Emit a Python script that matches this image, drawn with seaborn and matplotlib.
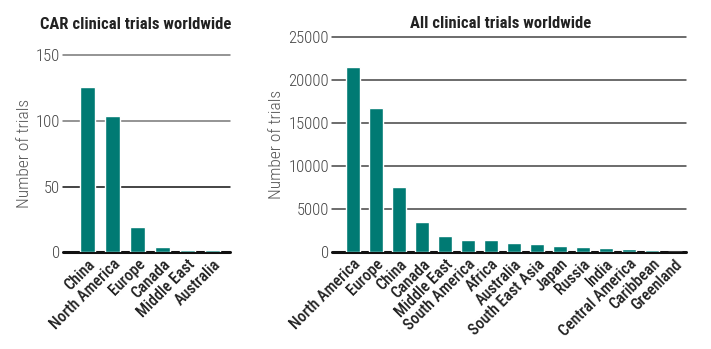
import matplotlib
matplotlib.use("Agg")
import matplotlib.pyplot as plt
import seaborn as sns
import pandas as pd

car_regions = ["China", "North America", "Europe", "Canada", "Middle East", "Australia"]
car_trials = [126, 104, 19, 4, 2, 2]

all_regions = ["North America", "Europe", "China", "Canada", "Middle East", "South America",
               "Africa", "Australia", "South East Asia", "Japan", "Russia", "India",
               "Central America", "Caribbean", "Greenland"]
all_trials = [21500, 16800, 7550, 3500, 1870, 1430, 1430, 1030, 930, 730, 620, 470, 360, 230, 15]

car_yticks = [0, 50, 100, 150]
all_yticks = [0, 5000, 10000, 15000, 20000, 25000]

sns.set_theme(style="white")
plt.rcParams["font.family"] = ["Roboto Condensed", "DejaVu Sans"]

teal = "#007A73"
fig = plt.figure(figsize=(7.11, 3.49), dpi=100)
ax1 = fig.add_axes([0.0886, 0.277, 0.235, 0.565])
ax2 = fig.add_axes([0.4665, 0.277, 0.498, 0.616])

df1 = pd.DataFrame({"region": car_regions, "trials": car_trials})
df2 = pd.DataFrame({"region": all_regions, "trials": all_trials})

sns.barplot(data=df1, x="region", y="trials", color=teal, width=0.6, ax=ax1, saturation=1, zorder=3)
sns.barplot(data=df2, x="region", y="trials", color=teal, width=0.62, ax=ax2, saturation=1, zorder=3)

def style(ax, yticks, xlim, title, gridcolors, tpad):
    ax.set_ylim(0, yticks[-1])
    ax.set_xlim(*xlim)
    ax.set_yticks(yticks)
    ax.set_yticklabels([str(t) for t in yticks], fontsize=12, color="#444444", fontweight="light")
    for t, c in zip(yticks[1:], gridcolors):
        ax.axhline(t, color=c, lw=1.1, zorder=1, clip_on=False)
    ax.axhline(0, color="#111111", lw=2.2, zorder=2, clip_on=False)
    for s in ax.spines.values():
        s.set_visible(False)
    ax.tick_params(axis="y", length=0, pad=2)
    ax.tick_params(axis="x", length=0, pad=3)
    plt.setp(ax.get_xticklabels(), rotation=45, ha="right", rotation_mode="anchor",
             fontsize=11.5, color="#222222", fontweight="medium")
    ax.set_xlabel("")
    ax.set_ylabel("Number of trials", fontsize=12.5, color="#555555", fontweight="light", labelpad=3)
    ax.set_title(title, fontsize=12, fontweight="bold", color="#222222", pad=tpad)
    ax.grid(False)

style(ax1, car_yticks, (-0.97, 5.69), "CAR clinical trials worldwide",
      ["#111111", "#777777", "#777777"], 19)
style(ax2, all_yticks, (-0.93, 14.48), "All clinical trials worldwide",
      ["#444444"] * 5, 7)
ax1.title.set_x(0.437)
ax2.title.set_x(0.478)

fig.savefig("out.png", dpi=100)
